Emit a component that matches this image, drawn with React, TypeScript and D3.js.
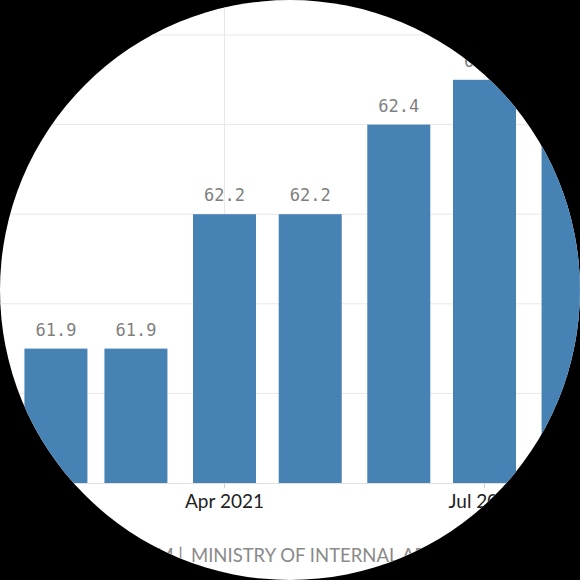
import React from "react";
import * as d3 from "d3";

const months: string[] = ["2021-01", "2021-02", "2021-03", "2021-04", "2021-05", "2021-06", "2021-07", "2021-08", "2021-09"];
const values: number[] = [62.0, 61.9, 61.9, 62.2, 62.2, 62.4, 62.5, 62.4, 62.3];
const yTicks: number[] = [61.8, 62.0, 62.2, 62.4, 62.6, 62.8];
const sourceLeft = "SOURCE: TRADINGECONOMICS.COM |";
const sourceRight = "MINISTRY OF INTERNAL AFFAIRS & COMMUNICATIONS";

const W = 580;
const H = 580;
const parse = d3.timeParse("%Y-%m");

export default function App() {
  const dates = months.map((m) => parse(m) as Date);
  const x = d3
    .scaleTime()
    .domain([new Date(2021, 3, 1), new Date(2021, 6, 1)])
    .range([224.5, 484.5]);
  const y = d3.scaleLinear().domain([61.6, 62.6]).range([483, 35]);
  const base = y(61.6);
  const barW = 63;
  const xTicks = d3.timeMonth.range(new Date(2020, 9, 1), new Date(2022, 0, 1), 3);
  const fmt = d3.timeFormat("%b %Y");

  return (
    <svg width={W} height={H} style={{ position: "absolute", left: 0, top: 0 }}>
      <defs>
        <clipPath id="circ">
          <circle cx={W / 2} cy={H / 2} r={290} />
        </clipPath>
      </defs>
      <rect x={0} y={0} width={W} height={H} fill="#000" />
      <g clipPath="url(#circ)">
        <rect x={0} y={0} width={W} height={H} fill="#fff" />
        {yTicks.map((t) => (
          <line key={t} x1={0} x2={W} y1={y(t)} y2={y(t)} stroke="#e8e8e8" strokeWidth={1} />
        ))}
        {xTicks.map((t) => (
          <line key={"v" + t.getTime()} x1={x(t)} x2={x(t)} y1={-10} y2={base} stroke="#e8e8e8" strokeWidth={1} />
        ))}
        {dates.map((d, i) => (
          <rect
            key={"b" + i}
            x={x(d) - barW / 2}
            y={y(values[i])}
            width={barW}
            height={base - y(values[i])}
            fill="#4682b4"
          />
        ))}
        {dates.map((d, i) => (
          <text
            key={"l" + i}
            x={x(d)}
            y={y(values[i]) - 13}
            textAnchor="middle"
            fontFamily="'DejaVu Sans Mono', monospace"
            fontSize={18.5}
            textLength={41}
            lengthAdjust="spacingAndGlyphs"
            fill="#7f7f7f"
          >
            {values[i].toFixed(1)}
          </text>
        ))}
        <line x1={0} x2={W} y1={base + 0.5} y2={base + 0.5} stroke="#e0e0e0" strokeWidth={1} />
        {xTicks.map((t) => (
          <g key={"t" + t.getTime()}>
            <line x1={x(t)} x2={x(t)} y1={base} y2={base + 5} stroke="#d0d0d0" strokeWidth={1} />
            <text
              x={x(t)}
              y={507.5}
              textAnchor="middle"
              fontFamily="Lato, 'Open Sans', sans-serif"
              fontSize={19}
              fill="#222"
            >
              {fmt(t)}
            </text>
          </g>
        ))}
        <text x={183} y={562} textAnchor="end" fontFamily="Lato, 'Open Sans', sans-serif" fontSize={18.5} fill="#8a8a8a">
          {sourceLeft}
        </text>
        <text x={191} y={562} textAnchor="start" fontFamily="Lato, 'Open Sans', sans-serif" fontSize={18.5} fill="#8a8a8a">
          {sourceRight}
        </text>
      </g>
    </svg>
  );
}
